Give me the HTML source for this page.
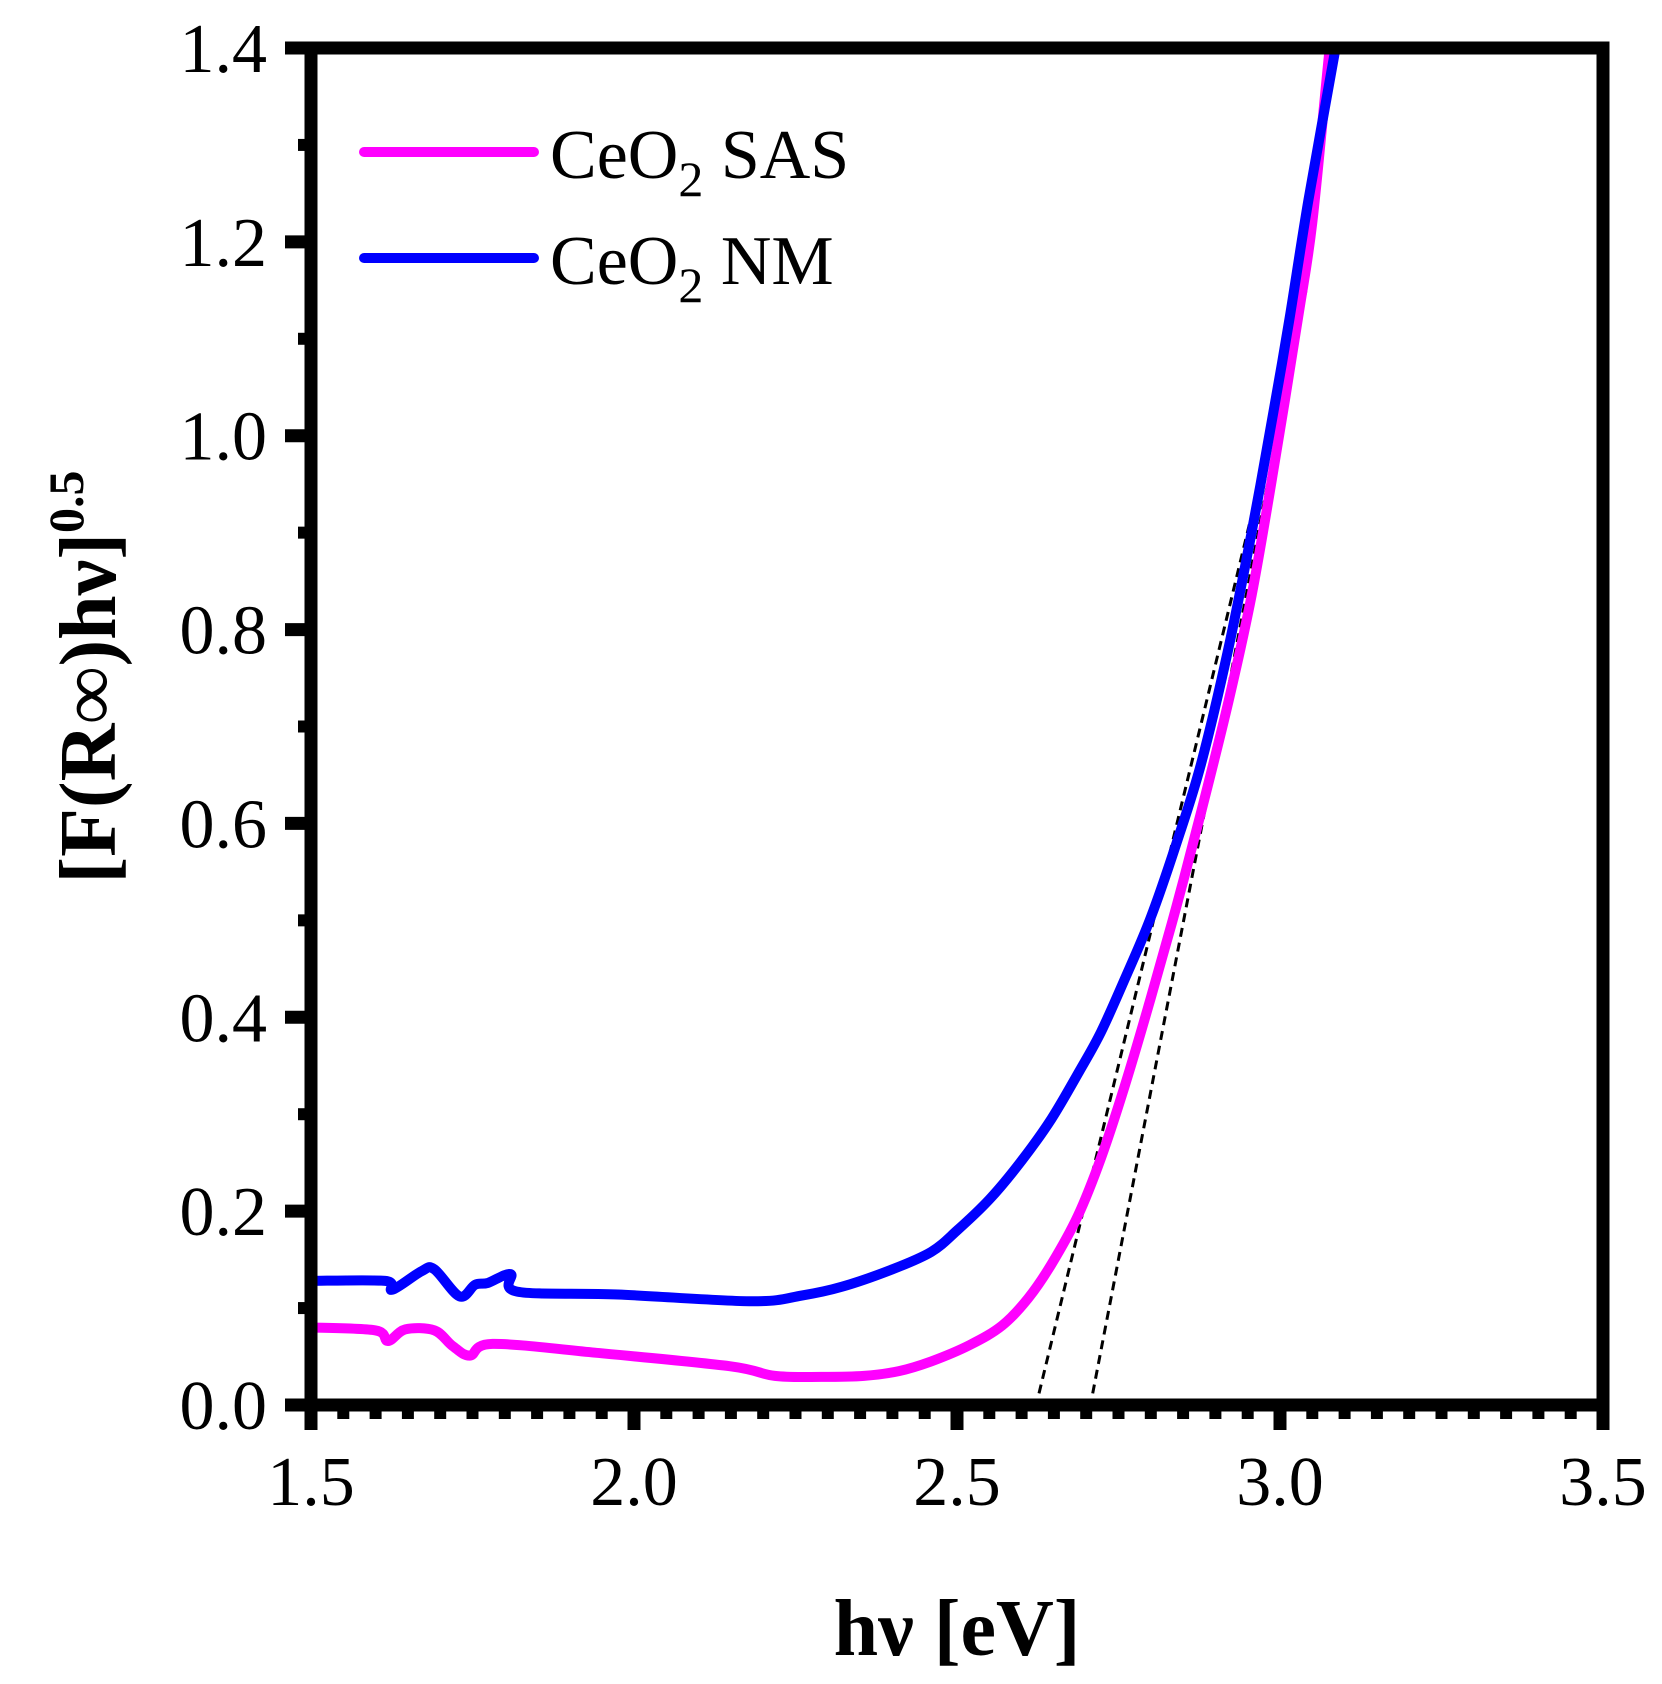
<!DOCTYPE html>
<html><head><meta charset="utf-8"><style>
html,body{margin:0;padding:0;background:#fff}
svg{display:block}
text{font-family:"Liberation Serif",serif;fill:#000}
</style></head><body>
<svg id="chart" width="1662" height="1684" viewBox="0 0 1662 1684" xmlns="http://www.w3.org/2000/svg">
<defs><clipPath id="plotclip"><rect x="311" y="48" width="1292" height="1357"/></clipPath></defs>
<g id="grid-ticks"></g>
<g id="series" clip-path="url(#plotclip)"></g>
<rect x="311" y="48" width="1292" height="1357" fill="none" stroke="#000" stroke-width="13"/>
<g id="labels"></g>
<text x="957" y="1655" text-anchor="middle" font-size="80" font-weight="bold">hν [eV]</text>
<text transform="translate(115,677) rotate(-90)" text-anchor="middle" font-size="80" font-weight="bold">[F(R∞)hν]<tspan font-size="50" dy="-32">0.5</tspan></text>
<g>
<line x1="364" y1="152" x2="534" y2="152" stroke="#ff00ff" stroke-width="10" stroke-linecap="round"/>
<text x="550" y="178" font-size="70">CeO<tspan font-size="50" dy="18">2</tspan><tspan dy="-18"> SAS</tspan></text>
<line x1="364" y1="258" x2="534" y2="258" stroke="#0000ff" stroke-width="10" stroke-linecap="round"/>
<text x="550" y="284" font-size="70">CeO<tspan font-size="50" dy="18">2</tspan><tspan dy="-18"> NM</tspan></text>
</g>
</svg>
<script>
const xTicks = [1.5, 2.0, 2.5, 3.0, 3.5];
const xTickLabels = ["1.5", "2.0", "2.5", "3.0", "3.5"];
const yTicks = [0, 0.2, 0.4, 0.6, 0.8, 1.0, 1.2, 1.4];
const yTickLabels = ["0.0", "0.2", "0.4", "0.6", "0.8", "1.0", "1.2", "1.4"];
const sasX = [1.50,1.60,1.619,1.646,1.691,1.719,1.746,1.781,1.94,2.148,2.218,2.29,2.356,2.41,2.46,2.52,2.57,2.61,2.646,2.687,2.723,2.76,2.80,2.84,2.878,2.92,2.956,2.99,3.028,3.05,3.077,3.09];
const sasY = [0.080,0.077,0.066,0.078,0.077,0.061,0.051,0.063,0.054,0.040,0.030,0.029,0.030,0.035,0.045,0.062,0.082,0.110,0.145,0.195,0.255,0.330,0.420,0.515,0.612,0.725,0.835,0.965,1.122,1.22,1.40,1.47];
const nmX = [1.50,1.615,1.626,1.671,1.691,1.730,1.754,1.774,1.809,1.819,1.975,2.182,2.26,2.322,2.40,2.46,2.50,2.55,2.60,2.646,2.69,2.723,2.76,2.80,2.84,2.878,2.92,2.956,2.99,3.015,3.044,3.086,3.10];
const nmY = [0.128,0.128,0.119,0.138,0.140,0.112,0.124,0.126,0.135,0.117,0.114,0.107,0.113,0.122,0.140,0.158,0.180,0.212,0.252,0.295,0.345,0.385,0.440,0.503,0.580,0.662,0.780,0.900,1.025,1.122,1.243,1.40,1.46];
const fit1X = [2.627, 3.041];
const fit1Y = [0.012, 1.152];
const fit2X = [2.710, 3.039];
const fit2Y = [0.012, 1.152];

const NS = "http://www.w3.org/2000/svg";
const X0 = 311, X1 = 1603, Y0 = 1405, Y1 = 48;
function sx(v){ return X0 + (v - 1.5) / 2.0 * (X1 - X0); }
function sy(v){ return Y0 - v / 1.4 * (Y0 - Y1); }
function mk(tag, attrs){ const e = document.createElementNS(NS, tag); for (const k in attrs) e.setAttribute(k, attrs[k]); return e; }

const tg = document.getElementById('grid-ticks');
const lg = document.getElementById('labels');
for (let i = 0; i <= 40; i++) {
  const v = 1.5 + i * 0.05;
  const major = i % 10 === 0;
  const t = mk('line', {x1: sx(v), x2: sx(v), y1: 1405, y2: major ? 1430 : 1419, stroke: '#000', 'stroke-width': major ? 13 : 12});
  
  
  tg.appendChild(t);
}
for (let i = 0; i <= 14; i++) {
  const v = i * 0.1;
  const major = i % 2 === 0;
  const t = mk('line', {x1: 311, x2: major ? 285 : 298, y1: sy(v), y2: sy(v), stroke: '#000', 'stroke-width': major ? 13 : 12});
  
  
  tg.appendChild(t);
}
xTicks.forEach((v, i) => {
  const t = mk('text', {x: sx(v), y: 1505, 'text-anchor': 'middle', 'font-size': 70});
  t.textContent = xTickLabels[i];
  
  
  lg.appendChild(t);
});
yTicks.forEach((v, i) => {
  const t = mk('text', {x: 267, y: sy(v) + 24, 'text-anchor': 'end', 'font-size': 70});
  t.textContent = yTickLabels[i];
  
  
  lg.appendChild(t);
});

const sg = document.getElementById('series');
function pts(xs, ys){ return xs.map((x, i) => sx(x).toFixed(1) + ',' + sy(ys[i]).toFixed(1)).join(' '); }
function smoothPath(xs, ys){
  const p = xs.map((x, i) => [sx(x), sy(ys[i])]);
  let d = 'M' + p[0][0].toFixed(1) + ',' + p[0][1].toFixed(1);
  for (let i = 0; i < p.length - 1; i++) {
    const p0 = p[Math.max(0, i - 1)], p1 = p[i], p2 = p[i + 1], p3 = p[Math.min(p.length - 1, i + 2)];
    const c1x = p1[0] + (p2[0] - p0[0]) / 6, c1y = p1[1] + (p2[1] - p0[1]) / 6;
    const c2x = p2[0] - (p3[0] - p1[0]) / 6, c2y = p2[1] - (p3[1] - p1[1]) / 6;
    d += ' C' + c1x.toFixed(1) + ',' + c1y.toFixed(1) + ' ' + c2x.toFixed(1) + ',' + c2y.toFixed(1) + ' ' + p2[0].toFixed(1) + ',' + p2[1].toFixed(1);
  }
  return d;
}
const f1 = mk('polyline', {points: pts(fit1X, fit1Y), fill: 'none', stroke: '#000', 'stroke-width': 3, 'stroke-dasharray': '9,6'});


sg.appendChild(f1);
const f2 = mk('polyline', {points: pts(fit2X, fit2Y), fill: 'none', stroke: '#000', 'stroke-width': 3, 'stroke-dasharray': '9,6'});


sg.appendChild(f2);
const ps = mk('path', {d: smoothPath(sasX, sasY), fill: 'none', stroke: '#ff00ff', 'stroke-width': 10, 'stroke-linejoin': 'round'});


sg.appendChild(ps);
const pn = mk('path', {d: smoothPath(nmX, nmY), fill: 'none', stroke: '#0000ff', 'stroke-width': 10, 'stroke-linejoin': 'round'});


sg.appendChild(pn);
</script>
</body></html>
